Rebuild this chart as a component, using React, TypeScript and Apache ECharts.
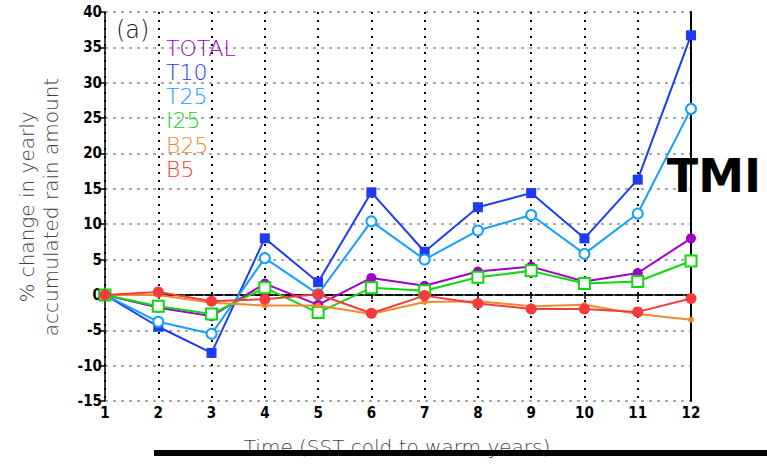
import React, { useEffect, useRef } from "react";
import * as echarts from "echarts";

const xValues = [1, 2, 3, 4, 5, 6, 7, 8, 9, 10, 11, 12];
const seriesNames = ["TOTAL", "T10", "T25", "I25", "B25", "B5"];
const totalVals = [0, -1.8, -3.0, 1.6, -1.4, 2.4, 1.3, 3.3, 4.0, 1.9, 3.1, 8.0];
const t10Vals = [0, -4.5, -8.2, 8.0, 1.8, 14.5, 6.1, 12.4, 14.4, 8.0, 16.3, 36.7];
const t25Vals = [0, -3.8, -5.5, 5.2, 0.1, 10.4, 5.0, 9.1, 11.3, 5.8, 11.5, 26.3];
const i25Vals = [0, -1.6, -2.7, 1.0, -2.5, 1.0, 0.6, 2.5, 3.4, 1.6, 1.9, 4.8];
const b25Vals = [0, 0.0, -1.1, -1.5, -1.5, -2.7, -1.0, -0.9, -1.6, -1.4, -2.7, -3.5];
const b5Vals = [0, 0.4, -0.9, -0.6, 0.1, -2.6, -0.1, -1.2, -2.0, -2.0, -2.4, -0.5];
const colors = ["#a000c8", "#1e3cf5", "#14a0ff", "#10d810", "#f08a30", "#f53c3c"];
const yMin = -15;
const yMax = 40;
const yStep = 5;
const yTitleLines = ["% change in yearly", "accumulated rain amount"];
const xTitle = "Time (SST cold to warm years)";
const panelLabel = "(a)";
const sideLabel = "TMI";

const tickFont = "'Liberation Sans Narrow', 'DejaVu Sans Condensed', sans-serif";
const thinFont = "'DejaVu Sans', sans-serif";

export default function App() {
  const ref = useRef<HTMLDivElement>(null);
  useEffect(() => {
    if (!ref.current) return;
    const chart = echarts.init(ref.current, undefined, { renderer: "svg" });
    const pair = (vals: number[]) => vals.map((v, i) => [xValues[i], v]);
    const mk = (
      idx: number,
      vals: number[],
      symbol: string,
      size: number,
      hollow: boolean
    ) => ({
      type: "line",
      name: seriesNames[idx],
      data: pair(vals),
      symbol,
      symbolSize: size,
      showAllSymbol: true,
      lineStyle: { color: colors[idx], width: 2 },
      itemStyle: hollow
        ? { color: "#ffffff", borderColor: colors[idx], borderWidth: 2 }
        : { color: colors[idx], borderWidth: 0 },
      z: 3 + idx,
    });
    const legendGraphics = seriesNames.map((n, i) => ({
      type: "text",
      x: 166,
      y: 48 + i * 24.3,
      style: {
        text: n,
        fill: colors[i],
        font: `200 22px ${thinFont}`,
        textVerticalAlign: "middle",
      },
      z: 100,
    }));
    chart.setOption({
      animation: false,
      backgroundColor: "#ffffff",
      grid: { left: 105, right: 76, top: 12, bottom: 65 },
      xAxis: [
        {
          type: "value",
          min: 1,
          max: 12,
          interval: 1,
          position: "bottom",
          axisLine: { show: true, lineStyle: { color: "#000", width: 1.5, type: [8, 2] } },
          axisTick: { show: true, length: 4, lineStyle: { color: "#000", width: 1.5 } },
          axisLabel: {
            color: "#000",
            fontFamily: tickFont,
            fontWeight: "bold",
            fontSize: 15,
            margin: 4,
          },
          splitLine: {
            show: true,
            lineStyle: { color: "#000", width: 2, type: [2, 6] },
          },
        },
        {
          type: "value",
          min: 1,
          max: 12,
          interval: 1,
          position: "top",
          axisLine: { show: true, lineStyle: { color: "#000", width: 1.5, type: [8, 2] } },
          axisTick: { show: false },
          axisLabel: { show: false },
          splitLine: { show: false },
        },
      ],
      yAxis: [
        {
          type: "value",
          min: yMin,
          max: yMax,
          interval: yStep,
          position: "left",
          axisLine: { show: true, lineStyle: { color: "#000", width: 1.5 } },
          axisTick: { show: true, length: 6, lineStyle: { color: "#000", width: 1.5 } },
          axisLabel: {
            color: "#000",
            fontFamily: tickFont,
            fontWeight: "bold",
            fontSize: 15,
            margin: 3,
          },
          splitLine: {
            show: true,
            lineStyle: { color: "#aaaaaa", width: 2, type: [3, 5] },
          },
        },
        {
          type: "value",
          min: yMin,
          max: yMax,
          interval: yStep,
          position: "right",
          axisLine: { show: true, lineStyle: { color: "#000", width: 2 } },
          axisTick: { show: false },
          axisLabel: { show: false },
          splitLine: { show: false },
        },
      ],
      series: [
        mk(0, totalVals, "circle", 10, false),
        mk(1, t10Vals, "rect", 10, false),
        mk(2, t25Vals, "circle", 10, true),
        mk(3, i25Vals, "rect", 11, true),
        mk(4, b25Vals, "circle", 6, false),
        mk(5, b5Vals, "circle", 11, false),
      ],
      graphic: [
        ...legendGraphics,
        {
          type: "text",
          x: 116,
          y: 30,
          style: {
            text: panelLabel,
            fill: "#222",
            font: `200 24px ${thinFont}`,
            textVerticalAlign: "middle",
          },
          z: 100,
        },
        {
          type: "text",
          x: 39,
          y: 207,
          rotation: Math.PI / 2,
          style: {
            text: yTitleLines.join("\n"),
            fill: "#444",
            font: `200 20px ${thinFont}`,
            textAlign: "center",
            textVerticalAlign: "middle",
            lineHeight: 24,
          },
          z: 100,
        },
        {
          type: "text",
          x: 397,
          y: 437,
          style: {
            text: xTitle,
            fill: "#444",
            font: `200 20px ${thinFont}`,
            textAlign: "center",
            textVerticalAlign: "top",
          },
          z: 100,
        },
        {
          type: "rect",
          shape: { x: 154, y: 450, width: 613, height: 6 },
          style: { fill: "#000" },
          z: 101,
        },
        {
          type: "text",
          x: 714,
          y: 176,
          style: {
            text: sideLabel,
            fill: "#000",
            font: `bold 46px ${thinFont}`,
            textAlign: "center",
            textVerticalAlign: "middle",
          },
          z: 102,
        },
      ],
    });
    return () => chart.dispose();
  }, []);
  return (
    <div
      ref={ref}
      style={{ position: "absolute", left: 0, top: 0, width: 767, height: 466 }}
    />
  );
}
